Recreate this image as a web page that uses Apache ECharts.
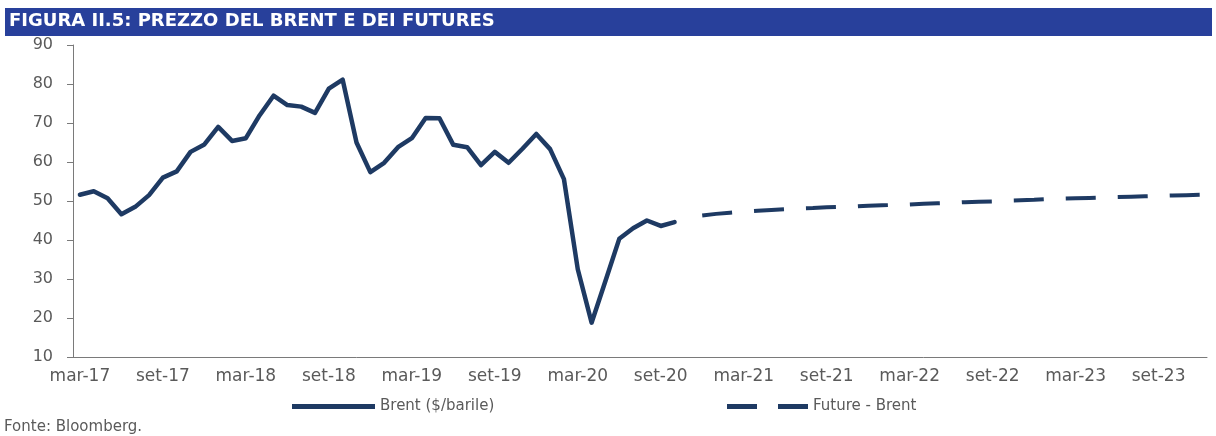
<!DOCTYPE html>
<html>
<head>
<meta charset="utf-8">
<script src="https://cdn.jsdelivr.net/npm/echarts@6/dist/echarts.min.js"></script>
<style>
  html, body { margin: 0; padding: 0; background: #fff; }
  #chart { width: 1216px; height: 436px; }
</style>
</head>
<body>
<div id="chart"></div>
<script>
// Monthly axis: mar-17 .. dic-23
const monthNames = ['gen', 'feb', 'mar', 'apr', 'mag', 'giu', 'lug', 'ago', 'set', 'ott', 'nov', 'dic'];
const firstYear = 17, firstMonth = 2, lastYear = 23, lastMonth = 11;
const categories = [];
for (let y = firstYear; y <= lastYear; y++) {
  for (let m = (y === firstYear ? firstMonth : 0); m <= (y === lastYear ? lastMonth : 11); m++) {
    categories.push(monthNames[m] + '-' + y);
  }
}

// Brent, monthly average ($/barile), mar-17 .. ott-20
const brentValues = [
  51.6, 52.5, 50.7, 46.6, 48.5, 51.5, 56.0, 57.6, 62.6, 64.5,
  69.0, 65.4, 66.1, 72.0, 77.0, 74.6, 74.2, 72.6, 78.8, 81.1,
  65.0, 57.4, 59.8, 63.8, 66.1, 71.3, 71.2, 64.4, 63.8, 59.2,
  62.6, 59.8, 63.4, 67.2, 63.3, 55.6, 32.5, 18.8, 29.5, 40.3,
  43.0, 45.0, 43.6, 44.6
];

// Futures curve on Brent, dic-20 .. dic-23
const futuresStart = 'dic-20';
const futuresValues = [
  46.3, 46.7, 47.0, 47.3, 47.5, 47.7, 47.9, 48.1, 48.2, 48.4,
  48.5, 48.6, 48.8, 48.9, 49.0, 49.1, 49.3, 49.4, 49.5, 49.7,
  49.8, 49.9, 50.1, 50.2, 50.3, 50.5, 50.6, 50.7, 50.8, 50.9,
  51.0, 51.1, 51.2, 51.3, 51.4, 51.5, 51.6
];

const yMin = 10, yMax = 90, yStep = 10;

const titleText = 'FIGURA II.5: PREZZO DEL BRENT E DEI FUTURES';
const sourceText = 'Fonte: Bloomberg.';

const lineColor = '#1e3a63';
const textColor = '#5a5a5a';
const axisColor = '#7a7a7a';

const brentData = categories.map((c, i) => (i < brentValues.length ? brentValues[i] : null));
const fStart = categories.indexOf(futuresStart);
const futuresData = categories.map((c, i) => {
  const k = i - fStart;
  return k >= 0 && k < futuresValues.length ? futuresValues[k] : null;
});

// Legend keys: a solid bar, and two dashes for the futures curve
const solidKey = 'path://M0,0H83V5H0Z';
const dashedKey = 'path://M0,0H30V5H0Z M51,0H81V5H51Z';

const chart = echarts.init(document.getElementById('chart'), null, { renderer: 'canvas' });
chart.setOption({
  animation: false,
  backgroundColor: '#ffffff',
  textStyle: { fontFamily: 'DejaVu Sans' },
  grid: { left: 73, right: 9, top: 45, bottom: 79, containLabel: false },
  graphic: [
    {
      type: 'rect',
      left: 5, top: 8,
      shape: { width: 1207, height: 28 },
      style: { fill: '#28409b' },
      silent: true
    },
    {
      type: 'text',
      left: 9, top: 12,
      style: {
        text: titleText,
        fill: '#ffffff',
        font: 'bold 18px "DejaVu Sans"'
      },
      silent: true
    },
    {
      type: 'text',
      left: 4, top: 420,
      style: {
        text: sourceText,
        fill: textColor,
        font: '15px "DejaVu Sans"'
      },
      silent: true
    }
  ],
  legend: [
    {
      data: [{ name: 'Brent ($/barile)', icon: solidKey }],
      left: 287, top: 394,
      itemWidth: 83, itemHeight: 5,
      textStyle: { color: textColor, fontSize: 15, fontFamily: 'DejaVu Sans' }
    },
    {
      data: [{ name: 'Future - Brent', icon: dashedKey }],
      left: 722, top: 394,
      itemWidth: 81, itemHeight: 5,
      textStyle: { color: textColor, fontSize: 15, fontFamily: 'DejaVu Sans' }
    }
  ],
  xAxis: {
    type: 'category',
    data: categories,
    boundaryGap: true,
    axisLine: { lineStyle: { color: axisColor, width: 1 } },
    axisTick: { interval: 5, length: 5, lineStyle: { color: axisColor } },
    axisLabel: {
      interval: 5,
      margin: 11,
      color: textColor,
      fontSize: 17,
      fontFamily: 'DejaVu Sans'
    },
    splitLine: { show: false }
  },
  yAxis: {
    type: 'value',
    min: yMin, max: yMax, interval: yStep,
    axisLine: { show: true, lineStyle: { color: axisColor, width: 1 } },
    axisTick: { show: true, length: 6, lineStyle: { color: axisColor } },
    axisLabel: {
      margin: 20,
      color: textColor,
      fontSize: 16,
      fontFamily: 'DejaVu Sans'
    },
    splitLine: { show: false }
  },
  series: [
    {
      name: 'Brent ($/barile)',
      type: 'line',
      data: brentData,
      showSymbol: false,
      symbol: 'none',
      connectNulls: false,
      lineStyle: { color: lineColor, width: 4.5, join: 'round', cap: 'round' },
      itemStyle: { color: lineColor }
    },
    {
      name: 'Future - Brent',
      type: 'line',
      data: futuresData,
      showSymbol: false,
      symbol: 'none',
      connectNulls: false,
      lineStyle: { color: lineColor, width: 4, type: [30, 22], cap: 'butt' },
      itemStyle: { color: lineColor }
    }
  ]
});
</script>
</body>
</html>
